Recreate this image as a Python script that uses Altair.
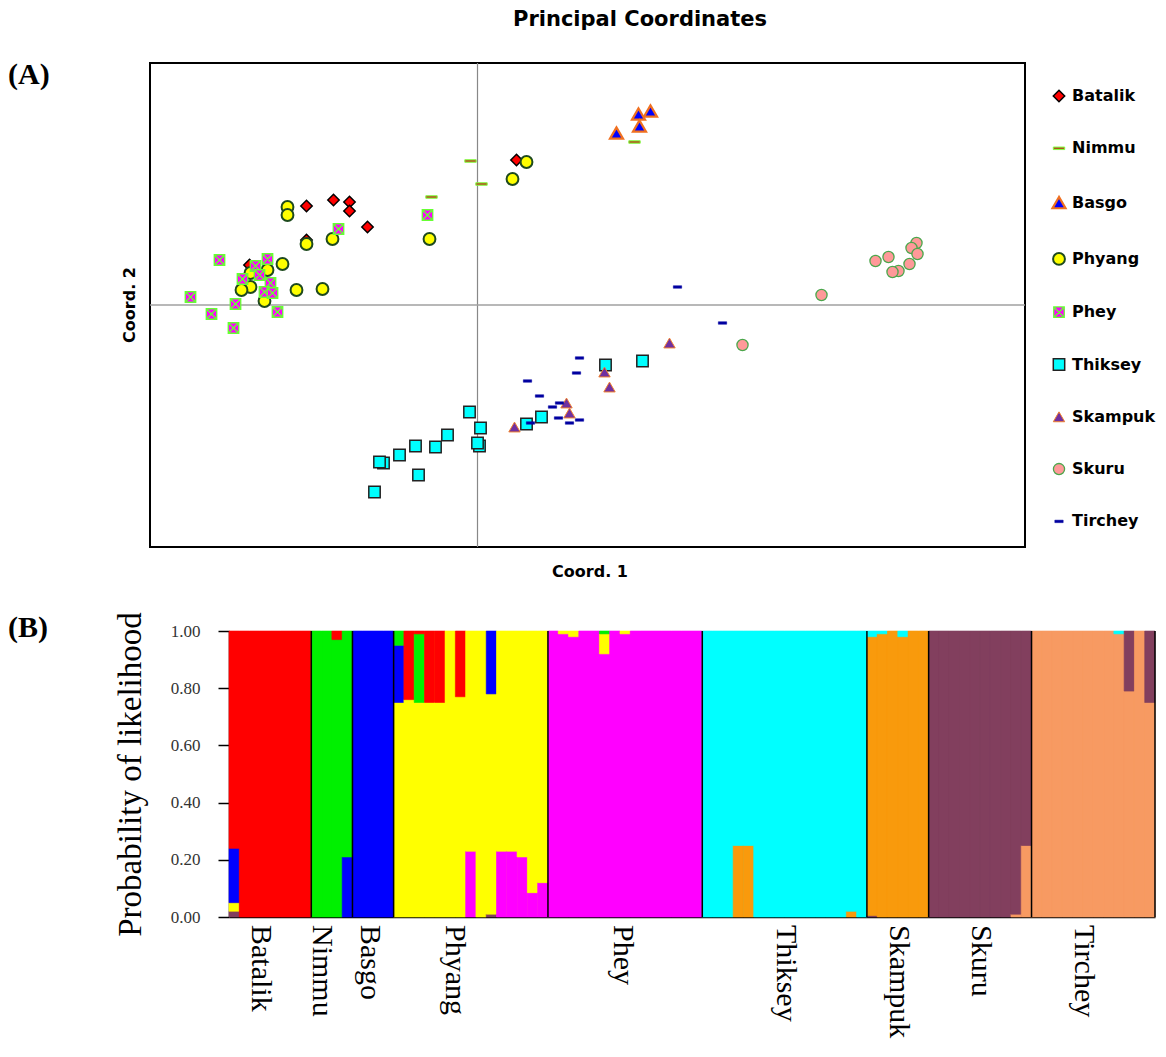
import altair as alt
import pandas as pd

# ---------------- data: Principal Coordinates (panel A) ----------------
POPULATIONS = ["Batalik", "Nimmu", "Basgo", "Phyang", "Phey",
               "Thiksey", "Skampuk", "Skuru", "Tirchey"]

COORD1 = {
    "Batalik": [-0.171, -0.144, -0.128, -0.128, -0.110, -0.228, -0.171, 0.039],
    "Nimmu": [-0.007, 0.004, -0.046, 0.157],
    "Basgo": [0.173, 0.161, 0.162, 0.139],
    "Phyang": [-0.190, -0.190, -0.171, -0.145, -0.195, -0.210, -0.227, -0.227,
               -0.236, -0.213, -0.181, -0.155, -0.048, 0.049, 0.035],
    "Phey": [-0.258, -0.287, -0.266, -0.244, -0.242, -0.235, -0.222, -0.210,
             -0.218, -0.207, -0.213, -0.205, -0.200, -0.139, -0.050],
    "Thiksey": [-0.008, 0.003, 0.002, 0.000, -0.030, -0.042, -0.062, -0.078,
                -0.094, -0.098, -0.059, -0.103, 0.049, 0.064, 0.128, 0.165],
    "Skampuk": [0.192, 0.127, 0.132, 0.089, 0.092, 0.037],
    "Skuru": [0.439, 0.434, 0.440, 0.411, 0.398, 0.432, 0.421, 0.415, 0.344, 0.265],
    "Tirchey": [0.200, 0.245, 0.102, 0.099, 0.050, 0.062, 0.075, 0.082, 0.081,
                0.092, 0.102, 0.053],
}
COORD2 = {
    "Batalik": [0.099, 0.105, 0.103, 0.094, 0.078, 0.040, 0.065, 0.145],
    "Nimmu": [0.144, 0.121, 0.108, 0.163],
    "Basgo": [0.194, 0.191, 0.179, 0.172],
    "Phyang": [0.098, 0.090, 0.061, 0.066, 0.041, 0.035, 0.032, 0.018,
               0.015, 0.004, 0.015, 0.016, 0.066, 0.143, 0.126],
    "Phey": [0.045, 0.008, -0.009, -0.023, 0.001, 0.026, 0.039, 0.046,
             0.030, 0.022, 0.013, 0.012, -0.007, 0.076, 0.090],
    "Thiksey": [-0.107, -0.123, -0.141, -0.138, -0.130, -0.142, -0.141, -0.150,
                -0.158, -0.157, -0.170, -0.187, -0.119, -0.112, -0.060, -0.056],
    "Skampuk": [-0.038, -0.067, -0.082, -0.098, -0.108, -0.122],
    "Skuru": [0.062, 0.057, 0.051, 0.048, 0.044, 0.041, 0.034, 0.033, 0.010, -0.040],
    "Tirchey": [0.018, -0.018, -0.053, -0.068, -0.076, -0.091, -0.102, -0.098,
                -0.113, -0.118, -0.115, -0.118],
}
PCOA_X_DOMAIN = [-0.3275, 0.5475]
PCOA_Y_DOMAIN = [-0.242, 0.242]

MARKER_SHAPE = ["diamond", "M-1,-0.22H1V0.22H-1Z", "triangle-up", "circle",
                "M-1,-1H1V1H-1Z M-1,-1L1,1 M1,-1L-1,1", "square", "triangle-up",
                "circle", "M-1,-0.3H1V0.3H-1Z"]
MARKER_FILL = ["#ff0000", "#b0541e", "#0000ff", "#ffff00", "#ff00ff",
               "#00ffff", "#7030a0", "#ff9999", "#0000a0"]
MARKER_STROKE = ["#000000", "#80ff40", "#f07020", "#1e4a1e", "#66ff33",
                 "#222222", "#f08030", "#4ca64c", "#0000a0"]
MARKER_SIZE = [130, 130, 170, 140, 110, 130, 130, 125, 70]
MARKER_STROKE_WIDTH = [1.5, 1.0, 2.2, 2.0, 1.3, 1.5, 1.0, 1.3, 0.5]

# ---------------- data: STRUCTURE bar plot (panel B) ----------------
N_INDIVIDUALS = [8, 4, 4, 15, 15, 16, 6, 10, 12]
CLUSTER_COLOURS = ["#ff0000", "#00f000", "#0000ff", "#ffff00", "#ff00ff",
                   "#00ffff", "#f99a0c", "#823f5e", "#f79a62"]
# admixed individuals: (population, index) -> memberships stacked bottom to top
ADMIXTURE = {
    ("Batalik", 0): [("Skuru", 0.02), ("Phyang", 0.03), ("Basgo", 0.19), ("Batalik", 0.76)],
    ("Nimmu", 2): [("Nimmu", 0.97), ("Batalik", 0.03)],
    ("Nimmu", 3): [("Basgo", 0.21), ("Nimmu", 0.79)],
    ("Phyang", 0): [("Phyang", 0.75), ("Basgo", 0.20), ("Nimmu", 0.05)],
    ("Phyang", 1): [("Phyang", 0.76), ("Batalik", 0.24)],
    ("Phyang", 2): [("Phyang", 0.75), ("Nimmu", 0.24), ("Batalik", 0.01)],
    ("Phyang", 3): [("Phyang", 0.75), ("Batalik", 0.25)],
    ("Phyang", 4): [("Phyang", 0.75), ("Batalik", 0.25)],
    ("Phyang", 6): [("Phyang", 0.77), ("Batalik", 0.23)],
    ("Phyang", 7): [("Phey", 0.23), ("Phyang", 0.77)],
    ("Phyang", 9): [("Skuru", 0.01), ("Phyang", 0.77), ("Basgo", 0.22)],
    ("Phyang", 10): [("Phey", 0.23), ("Phyang", 0.77)],
    ("Phyang", 11): [("Phey", 0.23), ("Phyang", 0.77)],
    ("Phyang", 12): [("Phey", 0.21), ("Phyang", 0.79)],
    ("Phyang", 13): [("Phey", 0.085), ("Phyang", 0.915)],
    ("Phyang", 14): [("Phey", 0.12), ("Phyang", 0.88)],
    ("Phey", 1): [("Phey", 0.99), ("Phyang", 0.01)],
    ("Phey", 2): [("Phey", 0.98), ("Phyang", 0.02)],
    ("Phey", 5): [("Phey", 0.92), ("Phyang", 0.07), ("Nimmu", 0.01)],
    ("Phey", 7): [("Phey", 0.99), ("Phyang", 0.01)],
    ("Thiksey", 3): [("Skampuk", 0.25), ("Thiksey", 0.75)],
    ("Thiksey", 4): [("Skampuk", 0.25), ("Thiksey", 0.75)],
    ("Thiksey", 14): [("Skampuk", 0.02), ("Thiksey", 0.98)],
    ("Skampuk", 0): [("Skuru", 0.005), ("Skampuk", 0.975), ("Thiksey", 0.02)],
    ("Skampuk", 1): [("Skampuk", 0.99), ("Thiksey", 0.01)],
    ("Skampuk", 3): [("Skampuk", 0.98), ("Thiksey", 0.02)],
    ("Skuru", 8): [("Tirchey", 0.01), ("Skuru", 0.99)],
    ("Skuru", 9): [("Tirchey", 0.25), ("Skuru", 0.75)],
    ("Tirchey", 8): [("Tirchey", 0.99), ("Thiksey", 0.01)],
    ("Tirchey", 9): [("Tirchey", 0.79), ("Skuru", 0.21)],
    ("Tirchey", 11): [("Tirchey", 0.75), ("Skuru", 0.25)],
}
# population label positions (in individual units) and y-axis tick values
LABEL_POSITIONS = [3.1, 9.0, 13.7, 22.0, 38.3, 54.1, 65.1, 73.1, 83.1]
Y_TICKS = [0.0, 0.2, 0.4, 0.6, 0.8, 1.0]

# ---------------- tables ----------------
pcoa_rows = []
for p in POPULATIONS:
    for cx, cy in zip(COORD1[p], COORD2[p]):
        pcoa_rows.append({"pop": p, "c1": cx, "c2": cy})
pcoa_df = pd.DataFrame(pcoa_rows)

colour_of = dict(zip(POPULATIONS, CLUSTER_COLOURS))
bar_rows, block_rows = [], []
pos = 0
for p, n in zip(POPULATIONS, N_INDIVIDUALS):
    block_rows.append({"s": pos, "e": pos + n, "colour": colour_of[p]})
    for j in range(n):
        comps = ADMIXTURE.get((p, j), [(p, 1.0)])
        acc = 0.0
        for cl, share in comps:
            bar_rows.append({"x0": pos, "x1": pos + 1, "y0": acc, "y1": acc + share,
                             "cluster": cl, "colour": colour_of[cl]})
            acc += share
        pos += 1
bar_df = pd.DataFrame(bar_rows)
block_df = pd.DataFrame(block_rows)
sep_df = pd.DataFrame({"b": [r["e"] for r in block_rows]})
label_df = pd.DataFrame({"pos": LABEL_POSITIONS, "name": POPULATIONS})
TOTAL = pos

# ---------------- layout (pixels within the single view) ----------------
W, H = 1005, 854
SX = alt.Scale(domain=PCOA_X_DOMAIN, range=[0, 875], nice=False, zero=False)
SY = alt.Scale(domain=PCOA_Y_DOMAIN, range=[484, 0], nice=False, zero=False)
BX = alt.Scale(domain=[0, TOTAL], range=[79, W], nice=False, zero=False)
BY = alt.Scale(domain=[0, 1], range=[H, 568], nice=False, zero=False)

SANS = "DejaVu Sans"
SERIF = "Liberation Serif"

# ---------------- panel A ----------------
frame = alt.Chart(pd.DataFrame({"k": [0]})).mark_rect(
    filled=False, stroke="black", strokeWidth=2).encode(
    x=alt.X(datum=PCOA_X_DOMAIN[0], scale=SX, axis=None),
    x2=alt.X2(datum=PCOA_X_DOMAIN[1]),
    y=alt.Y(datum=PCOA_Y_DOMAIN[0], scale=SY, axis=None),
    y2=alt.Y2(datum=PCOA_Y_DOMAIN[1]),
)
vline = alt.Chart(pd.DataFrame({"k": [0]})).mark_rule(color="#888888", strokeWidth=1.2).encode(
    x=alt.X(datum=0, scale=SX, axis=None),
    y=alt.Y(datum=PCOA_Y_DOMAIN[0], scale=SY, axis=None),
    y2=alt.Y2(datum=PCOA_Y_DOMAIN[1]),
)
hline = alt.Chart(pd.DataFrame({"k": [0]})).mark_rule(color="#a0a0a0", strokeWidth=1.6).encode(
    y=alt.Y(datum=0, scale=SY, axis=None),
    x=alt.X(datum=PCOA_X_DOMAIN[0], scale=SX, axis=None),
    x2=alt.X2(datum=PCOA_X_DOMAIN[1]),
)

legend = alt.Legend(title=None, orient="none", legendX=901, legendY=25,
                    labelFont=SANS, labelFontSize=16, labelFontWeight="bold",
                    labelColor="black", rowPadding=35.3, labelOffset=5, symbolOpacity=1)

points = alt.Chart(pcoa_df).mark_point(filled=True, opacity=1).encode(
    x=alt.X("c1:Q", scale=SX, axis=None),
    y=alt.Y("c2:Q", scale=SY, axis=None),
    shape=alt.Shape("pop:N", scale=alt.Scale(domain=POPULATIONS, range=MARKER_SHAPE), legend=legend),
    fill=alt.Fill("pop:N", scale=alt.Scale(domain=POPULATIONS, range=MARKER_FILL), legend=legend),
    stroke=alt.Stroke("pop:N", scale=alt.Scale(domain=POPULATIONS, range=MARKER_STROKE), legend=legend),
    size=alt.Size("pop:N", scale=alt.Scale(type="ordinal", domain=POPULATIONS, range=MARKER_SIZE),
                  legend=legend),
    strokeWidth=alt.StrokeWidth("pop:N", scale=alt.Scale(type="ordinal", domain=POPULATIONS,
                                                         range=MARKER_STROKE_WIDTH), legend=legend),
)


def label(text, x, y, font, size, weight="bold", angle=0, align="center"):
    return alt.Chart(pd.DataFrame({"t": [text]})).mark_text(
        font=font, fontSize=size, fontWeight=weight, align=align, baseline="middle",
        color="black", angle=angle
    ).encode(text="t:N", x=alt.value(x), y=alt.value(y))


title_txt = label("Principal Coordinates", 490, -43, SANS, 21)
coord1_txt = label("Coord. 1", 440, 509, SANS, 16)
coord2_txt = label("Coord. 2", -20, 242, SANS, 16, angle=270)
a_txt = label("(A)", -142, 12, SERIF, 30, align="left")
b_txt = label("(B)", -142, 565, SERIF, 30, align="left")

# ---------------- panel B ----------------
x_axis = alt.Axis(labels=False, ticks=False, domainColor="black", domainWidth=1.5,
                  grid=False, title=None, orient="bottom")
y_axis = alt.Axis(values=Y_TICKS, format=".2f", orient="left", offset=-79,
                  labelFont=SERIF, labelFontSize=17, labelColor="#333333", labelPadding=18,
                  tickSize=11, tickColor="black", tickWidth=1.5, domainColor="black",
                  domainWidth=1.5, grid=False, title="Probability of likelihood",
                  titleFont=SERIF, titleFontSize=33, titleFontWeight="normal",
                  titleColor="black", titlePadding=23)

blocks = alt.Chart(block_df).mark_rect().encode(
    x=alt.X("s:Q", scale=BX, axis=None),
    x2="e:Q",
    y=alt.Y(datum=0, scale=BY, axis=None),
    y2=alt.Y2(datum=1),
    fill=alt.Fill("colour:N", scale=None),
)

bars = alt.Chart(bar_df).mark_rect(strokeWidth=0.6).encode(
    x=alt.X("x0:Q", scale=BX, axis=x_axis),
    x2="x1:Q",
    y=alt.Y("y0:Q", scale=BY, axis=y_axis),
    y2="y1:Q",
    fill=alt.Fill("colour:N", scale=None),
    stroke=alt.Stroke("colour:N", scale=None),
)

seps = alt.Chart(sep_df).mark_rule(color="black", strokeWidth=1.5).encode(
    x=alt.X("b:Q", scale=BX, axis=None),
    y=alt.Y(datum=0, scale=BY, axis=None),
    y2=alt.Y2(datum=1),
)

pop_labels = alt.Chart(label_df).mark_text(
    font=SERIF, fontSize=30, angle=90, align="left", baseline="middle", color="black"
).encode(
    x=alt.X("pos:Q", scale=BX, axis=None),
    y=alt.value(H + 8),
    text="name:N",
)

chart = alt.layer(
    frame, vline, hline, points, title_txt, coord1_txt, coord2_txt, a_txt,
    blocks, bars, seps, pop_labels, b_txt
).resolve_scale(
    x="independent", y="independent"
).properties(
    width=W, height=H,
    autosize=alt.AutoSizeParams(type="none"),
    padding={"left": 150, "top": 63, "right": 11, "bottom": 140},
).configure_view(strokeWidth=0)

chart.save("out.html", embed_options={"renderer": "svg", "actions": False})
